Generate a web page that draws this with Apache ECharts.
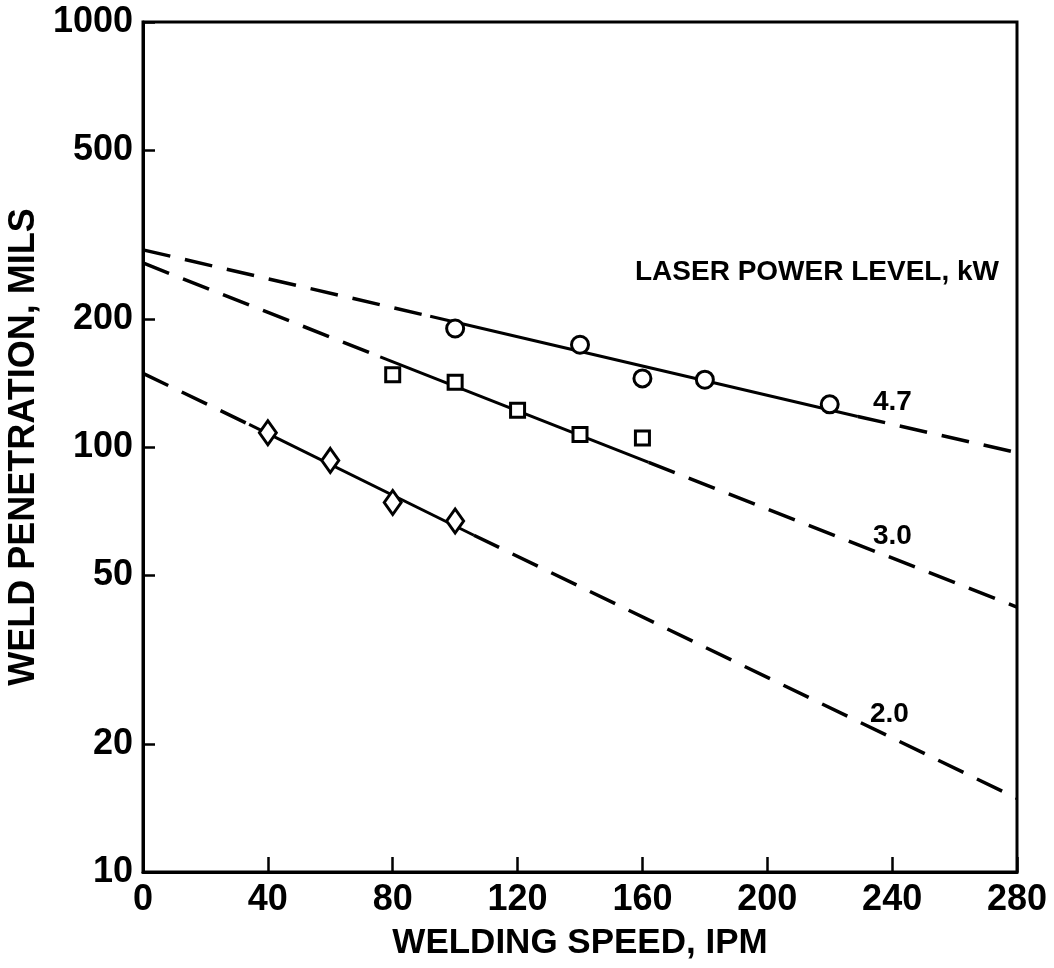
<!DOCTYPE html>
<html>
<head>
<meta charset="utf-8">
<script src="https://cdn.jsdelivr.net/npm/echarts@6/dist/echarts.min.js"></script>
<style>
	html, body { margin: 0; padding: 0; background: #fff; }
	#chart { width: 1054px; height: 968px; }
</style>
</head>
<body>
<div id="chart"></div>
<script>
	// measured points, x = welding speed (IPM), y = penetration (mils)
	const circles47 = [[100, 190], [140, 174], [160, 145], [180, 144], [220, 126]]
	const squares30 = [[80, 148], [100, 142], [120, 122], [140, 107], [160, 105]]
	const diamonds20 = [[40, 108], [60, 93], [80, 74], [100, 67]]

	// fit lines: start, start of solid part, end of solid part, end
	const fit47 = [[0, 291], [92, 203], [229, 118], [280, 97]]
	const fit30 = [[0, 271], [76, 163], [162, 92], [280, 42]]
	const fit20 = [[0, 149], [34, 113], [106, 62], [280, 14.9]]

	const yTicks = [10, 20, 50, 100, 200, 500, 1000]

	const FONT = 'Liberation Sans'

	const fitSeries = (fit) => {
		const dashed = { color: '#000', width: 3.5, type: [28, 15] }
		const solid = { color: '#000', width: 3, type: 'solid' }
		return [
			{ type: 'line', data: fit.slice(0, 2), symbol: 'none', lineStyle: dashed, silent: true },
			{ type: 'line', data: fit.slice(1, 3), symbol: 'none', lineStyle: solid, silent: true },
			{ type: 'line', data: fit.slice(2, 4), symbol: 'none', lineStyle: dashed, silent: true }
		]
	}

	const pointSeries = (data, symbol, size) => ({
		type: 'scatter',
		data: data,
		symbol: symbol,
		symbolSize: size,
		z: 5,
		itemStyle: { color: '#fff', borderColor: '#000', borderWidth: 3, opacity: 1 }
	})

	const option = {
		animation: false,
		backgroundColor: '#fff',
		grid: {
			left: 143,
			right: 37,
			top: 22,
			bottom: 96,
			containLabel: false,
			outerBoundsMode: 'none',
			show: true,
			borderColor: '#000',
			borderWidth: 3
		},
		xAxis: {
			type: 'value',
			min: 0,
			max: 280,
			interval: 40,
			name: 'WELDING SPEED, IPM',
			nameLocation: 'middle',
			nameGap: 54,
			nameTextStyle: { fontFamily: FONT, fontWeight: 'bold', fontSize: 35, color: '#000' },
			axisLine: { lineStyle: { color: '#000', width: 3 } },
			// ticks point into the plot
			axisTick: { inside: true, length: 15, lineStyle: { color: '#000', width: 2.5 } },
			axisLabel: { fontFamily: FONT, fontWeight: 'bold', fontSize: 36, color: '#000', margin: 10 },
			splitLine: { show: false }
		},
		yAxis: {
			type: 'log',
			logBase: 10,
			min: 10,
			max: 1000,
			name: 'WELD PENETRATION, MILS',
			nameLocation: 'middle',
			nameGap: 98,
			nameRotate: 90,
			nameTextStyle: { fontFamily: FONT, fontWeight: 'bold', fontSize: 36, color: '#000' },
			axisLine: { lineStyle: { color: '#000', width: 3 } },
			axisTick: { inside: true, length: 12, lineStyle: { color: '#000', width: 2.5 }, customValues: yTicks },
			axisLabel: {
				fontFamily: FONT, fontWeight: 'bold', fontSize: 36, color: '#000', margin: 10,
				customValues: yTicks,
				formatter: (v) => String(Math.round(v))
			},
			splitLine: { show: false },
			minorTick: { show: false }
		},
		graphic: [
			{ type: 'text', right: 55, top: 258, style: { text: 'LASER POWER LEVEL, kW', fontFamily: FONT, fontWeight: 'bold', fontSize: 28, fill: '#000' } },
			{ type: 'text', left: 873, top: 388, style: { text: '4.7', fontFamily: FONT, fontWeight: 'bold', fontSize: 28, fill: '#000' } },
			{ type: 'text', left: 873, top: 522, style: { text: '3.0', fontFamily: FONT, fontWeight: 'bold', fontSize: 28, fill: '#000' } },
			{ type: 'text', left: 870, top: 700, style: { text: '2.0', fontFamily: FONT, fontWeight: 'bold', fontSize: 28, fill: '#000' } }
		],
		series: [
			...fitSeries(fit47),
			...fitSeries(fit30),
			...fitSeries(fit20),
			pointSeries(circles47, 'circle', 17),
			pointSeries(squares30, 'rect', 14),
			pointSeries(diamonds20, 'diamond', [17, 24])
		]
	}

	const chart = echarts.init(document.getElementById('chart'))
	chart.setOption(option)
	window.onresize = () => {
		chart.resize()
	}
</script>
</body>
</html>
